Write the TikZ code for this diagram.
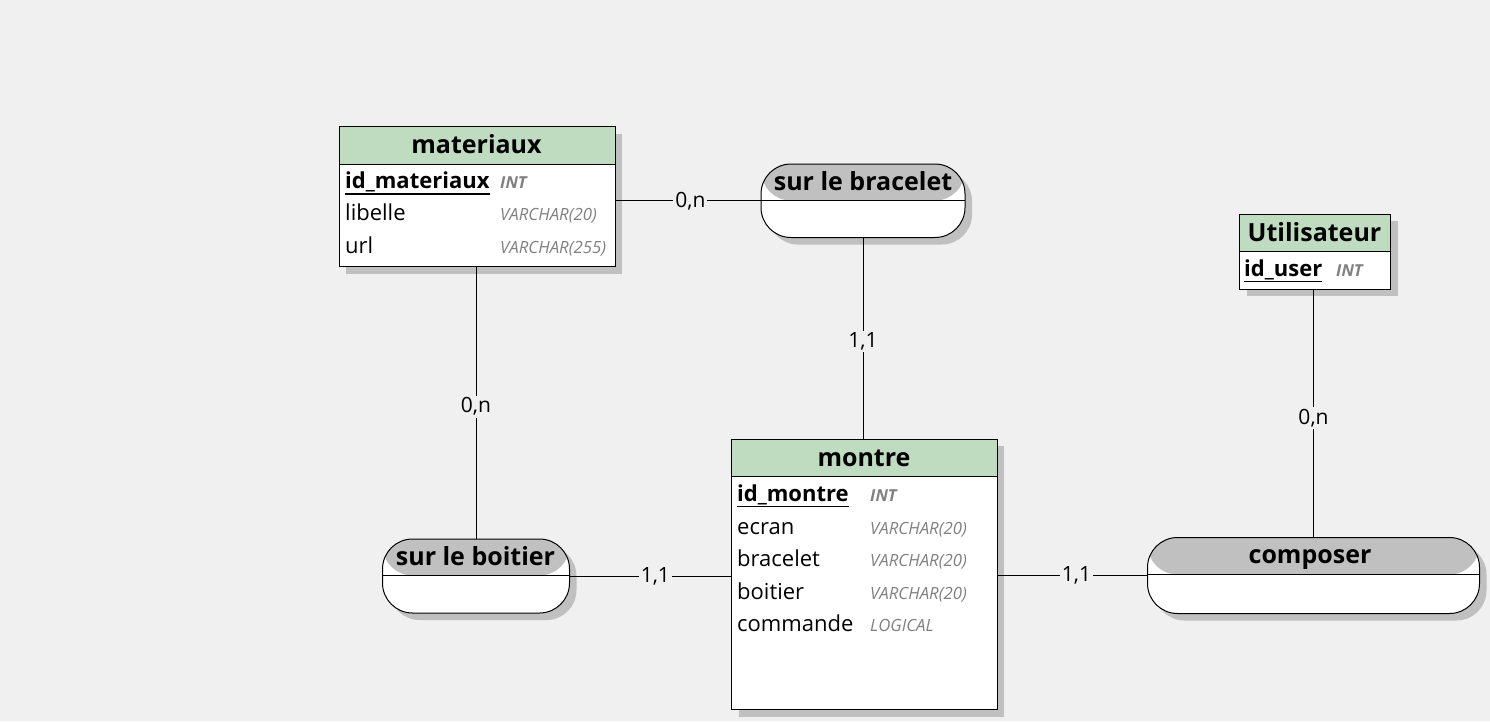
\documentclass[tikz,border=0pt]{standalone}
\usepackage{fontspec}
\setmainfont{Open Sans}
\usetikzlibrary{shadows}
\definecolor{bg}{HTML}{F0F0F0}
\definecolor{hdr}{HTML}{C0DCC0}
\definecolor{assoc}{HTML}{C0C0C0}
\definecolor{shd}{HTML}{C0C0C0}
\definecolor{typ}{HTML}{808080}
\begin{document}
\begin{tikzpicture}[x=1pt,y=-1pt,
  shad/.style={drop shadow={shadow xshift=7pt,shadow yshift=-7pt,fill=shd,opacity=1}},
  ent/.style={draw=black,line width=1pt,fill=white,inner sep=0pt,anchor=north west,shad,
    path picture={\fill[hdr] (path picture bounding box.north west) rectangle ([yshift=-#1]path picture bounding box.north east);
      \draw[line width=1pt] ([yshift=-#1]path picture bounding box.north west) -- ([yshift=-#1]path picture bounding box.north east);}},
  asc/.style={draw=black,line width=1pt,fill=white,inner sep=0pt,anchor=north west,rounded corners=30pt,shad,
    path picture={\fill[assoc] (path picture bounding box.north west) rectangle ([yshift=-#1]path picture bounding box.north east);
      \draw[line width=1pt] ([yshift=-#1]path picture bounding box.north west) -- ([yshift=-#1]path picture bounding box.north east);}},
  ttl/.style={inner sep=0pt,anchor=base,font=\fontsize{25}{30}\selectfont\bfseries},
  fld/.style={inner sep=0pt,anchor=base west,font=\fontsize{22}{26}\selectfont},
  key/.style={inner sep=0pt,anchor=base west,font=\fontsize{22}{26}\selectfont\bfseries},
  typk/.style={inner sep=0pt,anchor=base west,text=typ,font=\fontsize{16.5}{20}\selectfont\bfseries\itshape},
  typf/.style={inner sep=0pt,anchor=base west,text=typ,font=\fontsize{16.8}{20}\selectfont\itshape},
  ul/.style={line width=1.3pt},
  conn/.style={draw=black,line width=1pt},
  lab/.style={fill=bg,inner sep=2pt,font=\fontsize{21}{25}\selectfont}]
\fill[bg] (0,0) rectangle (1490,721);
\useasboundingbox (0,0) rectangle (1490,721);

% entities
\node[ent=37.5pt,minimum width=276pt,minimum height=140pt] (mat) at (338.5,126) {};
\node[ent=37.5pt,minimum width=265.5pt,minimum height=270.5pt] (mon) at (731,438.5) {};
\node[ent=37.5pt,minimum width=151pt,minimum height=75pt] (util) at (1239,213.5) {};
% associations
\node[asc=36.5pt,minimum width=204pt,minimum height=73.5pt] (brac) at (760.5,163.5) {};
\node[asc=36.5pt,minimum width=187pt,minimum height=74pt] (boit) at (382,538.5) {};
\node[asc=37pt,minimum width=332pt,minimum height=76pt] (comp) at (1147,537) {};

% titles
\node[ttl] (matT) at (476.5,153) {materiaux};
\node[ttl] (monT) at (864,466.5) {montre};
\node[ttl] (utilT) at (1314.5,241) {Utilisateur};
\node[ttl] (bracT) at (863,190) {sur le bracelet};
\node[ttl] (boitT) at (475.5,565) {sur le boitier};
\node[ttl] (compT) at (1310,563.5) {composer};

% materiaux fields
\node[key] (mk) at (345,188) {id\_materiaux};
\draw[ul] ([yshift=-6pt]mk.base west) -- ([yshift=-6pt]mk.base east);
\node[typk] (mkt) at (500,188) {INT};
\node[fld] (m1) at (345,220.5) {libelle};
\node[typf] (m1t) at (500,220.5) {VARCHAR(20)};
\node[fld] (m2) at (345,253) {url};
\node[typf] (m2t) at (500,253) {VARCHAR(255)};

% montre fields
\node[key] (ok) at (737,501.5) {id\_montre};
\draw[ul] ([yshift=-5pt]ok.base west) -- ([yshift=-5pt]ok.base east);
\node[typk] (okt) at (870,501.5) {INT};
\node[fld] (o1) at (737,534) {ecran};
\node[typf] (o1t) at (870,534) {VARCHAR(20)};
\node[fld] (o2) at (737,566.5) {bracelet};
\node[typf] (o2t) at (870,566.5) {VARCHAR(20)};
\node[fld] (o3) at (737,599) {boitier};
\node[typf] (o3t) at (870,599) {VARCHAR(20)};
\node[fld] (o4) at (737,631.5) {commande};
\node[typf] (o4t) at (870,631.5) {LOGICAL};

% utilisateur fields
\node[key] (uk) at (1244,276.5) {id\_user};
\draw[ul] ([yshift=-5pt]uk.base west) -- ([yshift=-5pt]uk.base east);
\node[typk] (ukt) at (1336,276.5) {INT};

% connectors
\draw[conn] (brac.west) -- node[lab,pos=0.483] (l1) {0,n} (brac.west -| mat.east);
\draw[conn] (brac.south) -- node[lab,pos=0.516] (l2) {1,1} (brac.south |- mon.north);
\draw[conn] (boit.north) -- node[lab,pos=0.486] (l3) {0,n} (boit.north |- mat.south);
\draw[conn] (boit.east) -- node[lab,pos=0.53] (l4) {1,1} (boit.east -| mon.west);
\draw[conn] (comp.west) -- node[lab,pos=0.472] (l5) {1,1} (comp.west -| mon.east);
\draw[conn] (comp.north) -- node[lab,pos=0.479] (l6) {0,n} (comp.north |- util.south);
\end{tikzpicture}
\end{document}
